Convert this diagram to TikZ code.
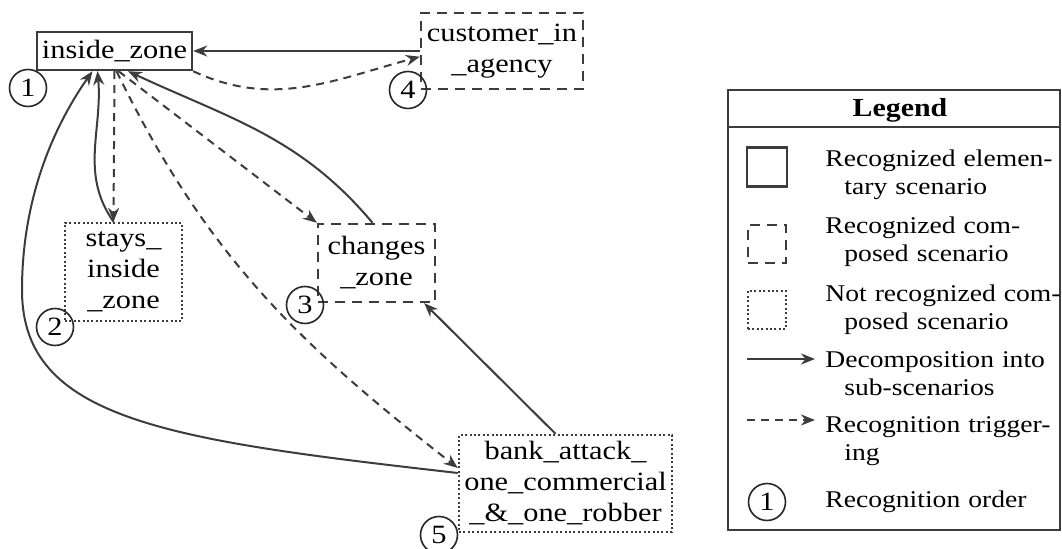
\documentclass[tikz,border=0pt]{standalone}
\usepackage{fontspec}
\setmainfont{Liberation Serif}[FakeStretch=1.15]
\usetikzlibrary{arrows.meta}
\definecolor{linegray}{HTML}{3C3C3E}
\newcommand{\nodefont}{\fontsize{13.2}{15.5}\selectfont}
\newcommand{\legfont}{\fontsize{12}{14}\selectfont}

\begin{document}
\begin{tikzpicture}[x=0.5pt, y=-0.5pt, >={Stealth[length=7pt,width=5.5pt]},
		scen/.style={draw=linegray, line width=1.2pt, inner sep=0pt, align=center, font=\nodefont},
		elem/.style={scen},
		comp/.style={scen, dash pattern=on 5pt off 3.5pt},
		notrec/.style={scen, dash pattern=on 1pt off 1.2pt},
		order/.style={circle, draw=black!85, line width=0.8pt, minimum size=18.5pt, inner sep=0pt, font=\nodefont},
		decomp/.style={->, color=linegray, line width=1pt},
		trig/.style={decomp, dash pattern=on 4pt off 3pt},
		legtext/.style={anchor=base west, inner sep=0pt, text width=125pt, align=left, font=\legfont}]
	\useasboundingbox (0,0) rectangle (1062,549);
	% scenarios
	\node[elem, minimum width=77.5pt, minimum height=19pt] (inside) at (114.5,51) {inside\_zone};
	\node[comp, minimum width=81pt, minimum height=38pt] (cust) at (502,51) {customer\_in\\\_agency};
	\node[notrec, minimum width=58.5pt, minimum height=49pt] (stays) at (123.5,272) {stays\_\\inside\\\_zone};
	\node[comp, minimum width=58.5pt, minimum height=39pt] (changes) at (376.5,263) {changes\\\_zone};
	\node[notrec, minimum width=106.5pt, minimum height=48.5pt] (bank) at (565.5,483.5) {bank\_attack\_\\one\_commercial\\\_\&\_one\_robber};
	\node[order] (o1) at (28,88) {1};
	\node[order] (o2) at (55,327) {2};
	\node[order] (o3) at (305,305) {3};
	\node[order] (o4) at (408,90) {4};
	\node[order] (o5) at (439,535) {5};
	\coordinate (loop) at (22,290);
	\path[decomp]
	(cust) edge (inside)
	([xshift=-5pt]stays.north) edge[out=125, in=-85] ([xshift=-8.5pt]inside.south)
	([xshift=-2pt]changes.north) edge[out=130, in=-25] ([xshift=6.75pt]inside.south)
	([xshift=-5pt]bank.north) edge ([xshift=-6pt]changes.south east);
	\draw[decomp] ([yshift=5.25pt]bank.west) .. controls +(-290,-33) and +(0,130) .. (loop)
		.. controls +(0,-90) and +(-40,57) .. ([xshift=-11pt]inside.south);
	\path[trig]
	(inside.south east) edge[out=-25, in=195] (cust.184)
	(inside.south) edge ([xshift=-5pt]stays.north)
	([xshift=2pt]inside.south) edge (changes.north west)
	([xshift=1pt]inside.south) edge[out=-64, in=142] ([yshift=7.75pt]bank.west);
	% legend
	\node[draw=linegray, line width=1pt, minimum width=166pt, minimum height=220pt, inner sep=0pt] (legend) at (894,310) {};
	\coordinate (hdr) at (0,127);
	\draw[linegray, line width=1pt] (legend.west |- hdr) -- (legend.east |- hdr);
	\node[anchor=base, inner sep=0pt, font=\bfseries\fontsize{13}{15}\selectfont] (legtitle) at (900,117) {Legend};
	\node[elem, minimum width=20pt, minimum height=19.5pt] (kelem) at (767,167) {};
	\node[comp, minimum size=19pt] (kcomp) at (767,244) {};
	\node[notrec, minimum size=19pt] (knot) at (767,310) {};
	\coordinate (kdecA) at (747,359);
	\coordinate (kdecB) at (815,359);
	\coordinate (ktrigA) at (747,420);
	\coordinate (ktrigB) at (815,420);
	\path[decomp] (kdecA) edge (kdecB);
	\path[trig] (ktrigA) edge (ktrigB);
	\node[order] (korder) at (767,502) {1};
	\node[legtext] (lelem) at (825,167) {Recognized elemen-\\\hspace*{9.5pt}tary scenario};
	\node[legtext] (lcomp) at (825,234) {Recognized com-\\\hspace*{9.5pt}posed scenario};
	\node[legtext] (lnot) at (825,302) {Not recognized com-\\\hspace*{9.5pt}posed scenario};
	\node[legtext] (ldec) at (825,368) {Decomposition into\\\hspace*{9.5pt}sub-scenarios};
	\node[legtext] (ltrig) at (825,433) {Recognition trigger-\\\hspace*{9.5pt}ing};
	\node[legtext] (lorder) at (825,508) {Recognition order};
\end{tikzpicture}
\end{document}
